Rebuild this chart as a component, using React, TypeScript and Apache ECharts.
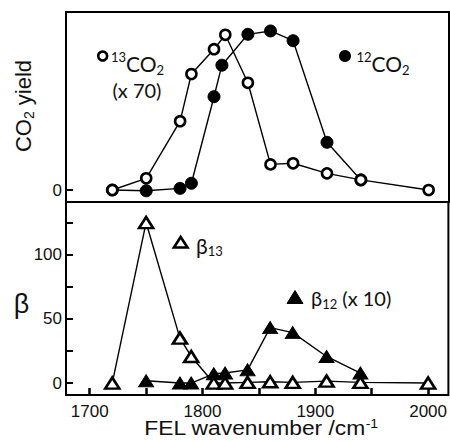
import React, { useEffect, useRef } from "react";
import * as echarts from "echarts";

// ---- data ----
const wn13 = [1720, 1750, 1780, 1790, 1810, 1820, 1840, 1860, 1880, 1910, 1940, 2000];
const co2Yield13 = [0, 7.3, 43, 72.5, 88, 97, 67, 16, 16.7, 10.4, 6.3, 0];
const wn12 = [1720, 1750, 1780, 1790, 1810, 1817, 1840, 1860, 1880, 1910, 1940];
const co2Yield12 = [0, -0.5, 1, 4.2, 58.3, 78, 97.3, 99.4, 93.3, 29.8, 6.3];

const wnBeta13 = [1720, 1750, 1780, 1790, 1810, 1820, 1840, 1860, 1880, 1910, 1940, 2000];
const beta13 = [0, 125, 35, 20.7, 0, 0, 0.5, 1, 0.5, 1.5, 0.5, 0];
const wnBeta12 = [1750, 1780, 1790, 1810, 1820, 1840, 1860, 1880, 1910, 1940];
const beta12 = [1.8, 0, 0, 7.2, 7.8, 10.3, 43.2, 39.3, 20.7, 7.8];

const xTicks = [1700, 1750, 1800, 1850, 1900, 1950, 2000];
const xLabels = [1700, 1800, 1900, 2000];
const topYTicks = [0];
const bottomYTicks = [0, 25, 50, 75, 100, 125];
const bottomYLabels = [0, 50, 100];

const FONT = "Lato, 'Open Sans', sans-serif";
const ARIAL = "'Liberation Sans', Arial, sans-serif";

const zip = (xs: number[], ys: number[]) => xs.map((x, i) => [x, ys[i]]);

export default function App() {
  const ref = useRef<HTMLDivElement>(null);
  useEffect(() => {
    if (!ref.current) return;
    const chart = echarts.init(ref.current, null, { renderer: "svg" });
    const lineStyle = { color: "#000", width: 1.4 };
    const openItem = { color: "#fff", borderColor: "#000", borderWidth: 2.6 };
    const fillItem = { color: "#000", borderColor: "#000", borderWidth: 1 };
    const tickLabel = { color: "#111", fontSize: 17, fontFamily: ARIAL, formatter: (v: number) => String(v) };
    chart.setOption({
      animation: false,
      backgroundColor: "#fff",
      grid: [
        { left: 66, top: 12, width: 383, height: 190, show: true, borderColor: "#000", borderWidth: 2, backgroundColor: "transparent" },
        { left: 66, top: 202, width: 383, height: 193, show: true, borderColor: "#000", borderWidth: 2, backgroundColor: "transparent" },
      ],
      xAxis: [
        { type: "value", gridIndex: 0, min: 1679, max: 2018, show: false },
        {
          type: "value", gridIndex: 1, min: 1679, max: 2018,
          axisLine: { show: false, onZero: false },
          splitLine: { show: false },
          axisTick: { show: true, inside: true, length: 7, lineStyle: { color: "#000", width: 2.5 }, customValues: xTicks },
          axisLabel: { ...tickLabel, margin: 8, customValues: xLabels },
        },
      ],
      yAxis: [
        {
          type: "value", gridIndex: 0, min: -7.5, max: 111.25,
          axisLine: { show: false, onZero: false },
          splitLine: { show: false },
          axisTick: { show: true, inside: true, length: 7, lineStyle: { color: "#000", width: 2 }, customValues: topYTicks },
          axisLabel: { ...tickLabel, margin: 4, customValues: topYTicks },
        },
        {
          type: "value", gridIndex: 1, min: -9.3, max: 141,
          axisLine: { show: false, onZero: false },
          splitLine: { show: false },
          axisTick: { show: true, inside: true, length: 7, lineStyle: { color: "#000", width: 2 }, customValues: bottomYTicks },
          axisLabel: { ...tickLabel, margin: 4, customValues: bottomYLabels },
        },
      ],
      series: [
        { type: "line", xAxisIndex: 0, yAxisIndex: 0, data: zip(wn12, co2Yield12), symbol: "circle", symbolSize: 12, lineStyle, itemStyle: fillItem, z: 2 },
        { type: "line", xAxisIndex: 0, yAxisIndex: 0, data: zip(wn13, co2Yield13), symbol: "circle", symbolSize: 10, lineStyle, itemStyle: openItem, z: 3 },
        { type: "line", xAxisIndex: 1, yAxisIndex: 1, data: zip(wnBeta12, beta12), symbol: "triangle", symbolSize: [15, 12], lineStyle, itemStyle: fillItem, z: 2 },
        { type: "line", xAxisIndex: 1, yAxisIndex: 1, data: zip(wnBeta13, beta13), symbol: "triangle", symbolSize: [14, 11], lineStyle, itemStyle: openItem, z: 3 },
      ],
      graphic: [
        // axis titles
        {
          type: "text", x: 23, y: 106, rotation: Math.PI / 2,
          style: {
            text: "{m|CO}{s|2}{m| yield}", align: "center", verticalAlign: "middle", fill: "#111",
            rich: {
              m: { fontSize: 22, fontFamily: ARIAL, lineHeight: 26, fill: "#111" },
              s: { fontSize: 14, fontFamily: ARIAL, lineHeight: 14, verticalAlign: "bottom", fill: "#111" },
            },
          },
        },
        { type: "text", x: 21.5, y: 304, style: { text: "β", fontSize: 27, fontFamily: ARIAL, fill: "#111", align: "center", verticalAlign: "middle" } },
        {
          type: "text", x: 261, y: 428, scaleX: 1.17,
          style: {
            text: "{m|FEL wavenumber /cm}{p|-1}", align: "center", verticalAlign: "middle", fill: "#111",
            rich: {
              m: { fontSize: 19.5, fontFamily: ARIAL, lineHeight: 20, fill: "#111" },
              p: { fontSize: 12, fontFamily: ARIAL, lineHeight: 12, verticalAlign: "top", fill: "#111" },
            },
          },
        },
        // top legends
        { type: "circle", shape: { cx: 102.7, cy: 56, r: 4.5 }, style: { fill: "#fff", stroke: "#000", lineWidth: 2.6 } },
        {
          type: "text", x: 111, y: 63,
          style: {
            text: "{p|13}{m|CO}{s|2}", align: "left", verticalAlign: "middle",
            rich: {
              m: { fontSize: 21, fontFamily: FONT, lineHeight: 26, fill: "#111" },
              p: { fontSize: 13, fontFamily: FONT, lineHeight: 13, verticalAlign: "top", fill: "#111" },
              s: { fontSize: 13, fontFamily: FONT, lineHeight: 13, verticalAlign: "bottom", fill: "#111" },
            },
          },
        },
        { type: "text", x: 112.5, y: 90, style: { text: "(x 70)", fontSize: 20, fontFamily: FONT, fill: "#111", align: "left", verticalAlign: "middle" } },
        { type: "circle", shape: { cx: 345, cy: 56, r: 6 }, style: { fill: "#000" } },
        {
          type: "text", x: 356.5, y: 63,
          style: {
            text: "{p|12}{m|CO}{s|2}", align: "left", verticalAlign: "middle",
            rich: {
              m: { fontSize: 21, fontFamily: FONT, lineHeight: 26, fill: "#111" },
              p: { fontSize: 13, fontFamily: FONT, lineHeight: 13, verticalAlign: "top", fill: "#111" },
              s: { fontSize: 13, fontFamily: FONT, lineHeight: 13, verticalAlign: "bottom", fill: "#111" },
            },
          },
        },
        // bottom legends
        { type: "polygon", shape: { points: [[180.7, 237], [187.5, 247.5], [173.9, 247.5]] }, style: { fill: "#fff", stroke: "#000", lineWidth: 2.6 } },
        {
          type: "text", x: 196, y: 245,
          style: {
            text: "{m|β}{s|13}", align: "left", verticalAlign: "middle",
            rich: {
              m: { fontSize: 21, fontFamily: FONT, lineHeight: 24, fill: "#111" },
              s: { fontSize: 13, fontFamily: FONT, lineHeight: 13, verticalAlign: "bottom", fill: "#111" },
            },
          },
        },
        { type: "polygon", shape: { points: [[295, 290.5], [303, 303.5], [287, 303.5]] }, style: { fill: "#000", stroke: "#000", lineWidth: 1 } },
        {
          type: "text", x: 311, y: 298,
          style: {
            text: "{m|β}{s|12}{m| (x 10)}", align: "left", verticalAlign: "middle",
            rich: {
              m: { fontSize: 20, fontFamily: FONT, lineHeight: 24, fill: "#111" },
              s: { fontSize: 13, fontFamily: FONT, lineHeight: 13, verticalAlign: "bottom", fill: "#111" },
            },
          },
        },
      ],
    });
    return () => chart.dispose();
  }, []);
  return <div ref={ref} style={{ width: 450, height: 441, position: "absolute", left: 0, top: 0 }} />;
}
